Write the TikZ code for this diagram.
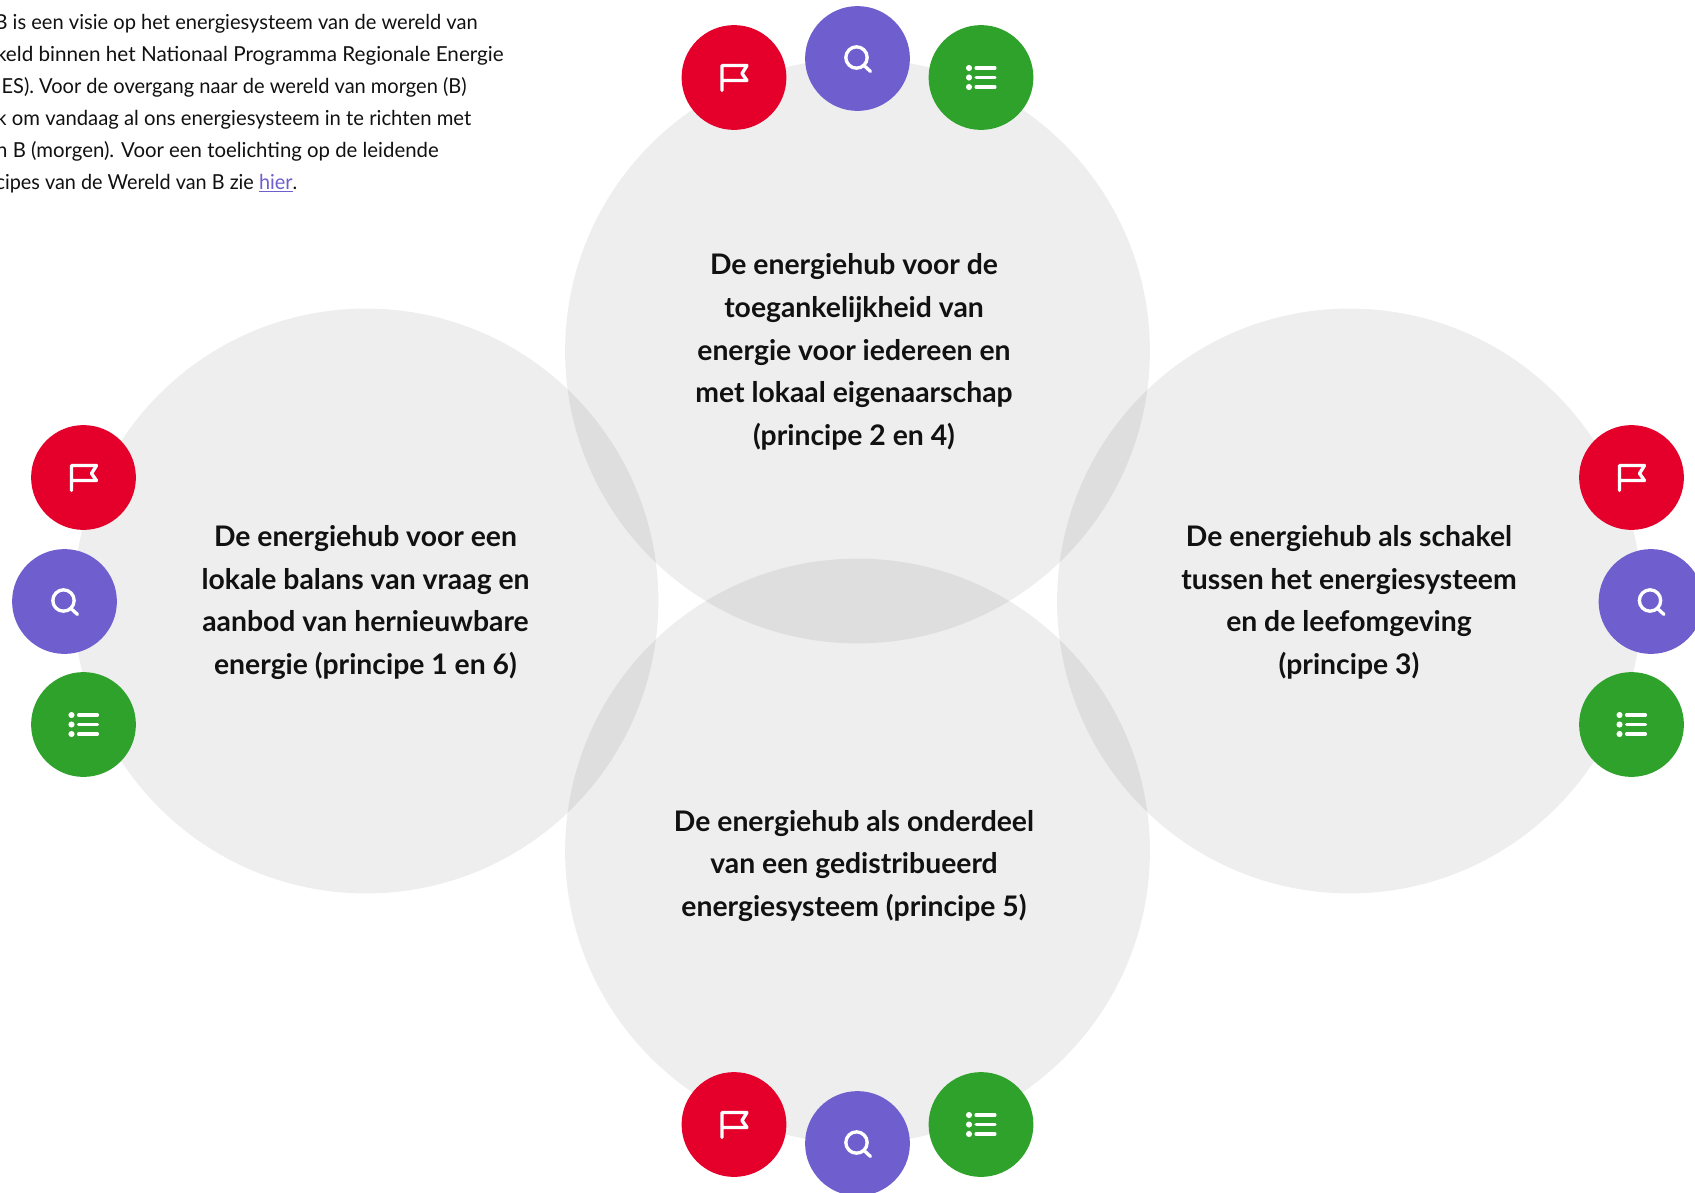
\documentclass[tikz,border=0pt]{standalone}
\usepackage{fontspec}
\setmainfont{Lato}
\definecolor{hubred}{HTML}{E4002B}
\definecolor{hubpurple}{HTML}{6F5ECE}
\definecolor{hubgreen}{HTML}{2FA22B}
\definecolor{hubtext}{HTML}{111111}
\newcommand{\narrowto}[2]{{\addfontfeature{FakeStretch=#1}#2}}
\tikzset{
  hub/.style={circle,fill=black,fill opacity=.068,draw=none,minimum size=438.6pt,inner sep=0pt},
  badge/.style={circle,draw=none,minimum size=78.6pt,inner sep=0pt},
  title/.style={align=center,text=hubtext,font=\fontsize{21.25pt}{32pt}\selectfont\bfseries,inner sep=0pt},
  para/.style={anchor=base east,text=hubtext,font=\fontsize{15.5pt}{24pt}\selectfont,inner sep=0pt},
  glyph/.style={draw=white,line width=2.5pt,line cap=round,line join=round},
  flagicon/.pic={\draw[glyph] (-12,13) -- (-12,-12) -- (13,-12) -- (8,-4) -- (13,3) -- (-12,3);},
  searchicon/.pic={\draw[glyph] (-1,-1) circle[radius=8pt]; \draw[glyph] (6.5,7) -- (13,13);},
  listicon/.pic={
    \foreach \q in {-9.5,0,9.5}{
      \fill[white] (-12,\q) circle[radius=2.3pt];
      \draw[glyph,line width=2.3pt] (-5,\q) -- (14,\q);
    }}
}
\begin{document}
\begin{tikzpicture}[x=0.75pt,y=-0.75pt]
\useasboundingbox (0,0) rectangle (1695,1192);
\clip (0,0) rectangle (1695,1192);
% large circles
\node[hub] (hubT) at (857.5,351) {};
\node[hub] (hubL) at (366,601) {};
\node[hub] (hubR) at (1349.5,601) {};
\node[hub] (hubB) at (857.5,851) {};
% intro text
\node[para] (p1) at (478,29) {\narrowto{0.972}{B is een visie op het energiesysteem van de wereld van}};
\node[para] (p2) at (504,61) {keld binnen het Nationaal Programma Regionale Energie};
\node[para] (p3) at (467,93) {\narrowto{0.97}{ES). Voor de overgang naar de wereld van morgen (B)}};
\node[para] (p4) at (471.5,125) {\narrowto{0.98}{k om vandaag al ons energiesysteem in te richten met}};
\node[para] (p5) at (439,157) {\narrowto{0.985}{n B (morgen). Voor een toelichting op de leidende}};
\node[para] (p6) at (297.5,189) {\narrowto{0.96}{cipes van de Wereld van B zie \textcolor{hubpurple}{\underline{hier}}.}};
% titles
\node[title] (tT) at (854,352) {De energiehub voor de\\toegankelijkheid van\\energie voor iedereen en\\met lokaal eigenaarschap\\(principe 2 en 4)};
\node[title] (tL) at (365.5,602.5) {De energiehub voor een\\lokale balans van vraag en\\aanbod van hernieuwbare\\energie (principe 1 en 6)};
\node[title] (tR) at (1349,602.5) {De energiehub als schakel\\tussen het energiesysteem\\en de leefomgeving\\(principe 3)};
\node[title] (tB) at (854,866) {De energiehub als onderdeel\\van een gedistribueerd\\energiesysteem (principe 5)};
% badges: top
\node[badge,fill=hubred] (r1) at (734,77.5) {};
\node[badge,fill=hubpurple] (s1) at (857.5,58.5) {};
\node[badge,fill=hubgreen] (g1) at (981,77.5) {};
% badges: left
\node[badge,fill=hubred] (r2) at (83.5,477.5) {};
\node[badge,fill=hubpurple] (s2) at (64.5,601.5) {};
\node[badge,fill=hubgreen] (g2) at (83.5,724.5) {};
% badges: right
\node[badge,fill=hubred] (r3) at (1631.5,477.5) {};
\node[badge,fill=hubpurple] (s3) at (1651,601.5) {};
\node[badge,fill=hubgreen] (g3) at (1631.5,724.5) {};
% badges: bottom
\node[badge,fill=hubred] (r4) at (734,1124.5) {};
\node[badge,fill=hubpurple] (s4) at (857.5,1143.5) {};
\node[badge,fill=hubgreen] (g4) at (981,1124.5) {};
% icons
\foreach \n in {r1,r2,r3,r4}{\pic at (\n) {flagicon};}
\foreach \n in {s1,s2,s3,s4}{\pic at (\n) {searchicon};}
\foreach \n in {g1,g2,g3,g4}{\pic at (\n) {listicon};}
\end{tikzpicture}
\end{document}
